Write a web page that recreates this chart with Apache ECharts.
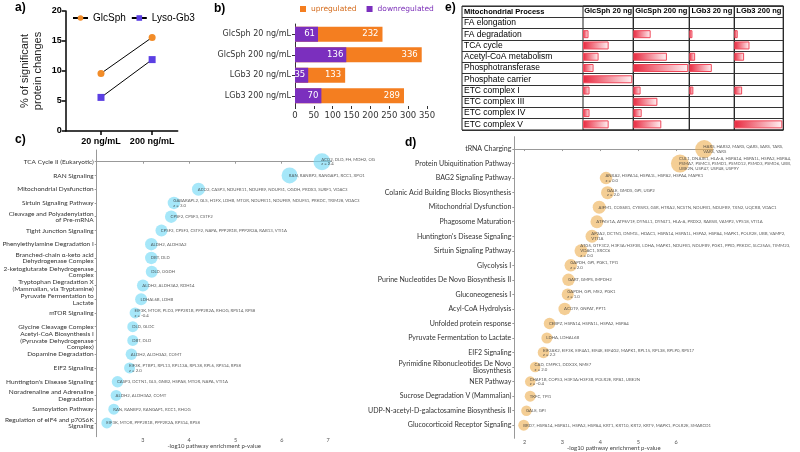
<!DOCTYPE html>
<html><head><meta charset="utf-8">
<script src="https://cdn.jsdelivr.net/npm/echarts@6/dist/echarts.min.js"></script>
<style>html,body{margin:0;padding:0;background:#fff}#c{width:800px;height:452px}</style>
</head><body><div id="c"></div>
<script>
// ---------- Panel a ----------
const aDoses = ['20 ng/mL', '200 ng/mL'];
const aGlcSph = [9.6, 15.6];
const aLysoGb3 = [5.6, 11.9];

// ---------- Panel b ----------
const bGroups = ['GlcSph 20 ng/mL', 'GlcSph 200 ng/mL', 'LGb3 20 ng/mL', 'LGb3 200 ng/mL'];
const bUp = [232, 336, 133, 289];
const bDown = [61, 136, 35, 70];

// ---------- Panel c ----------
const cPathways = [
  'TCA Cycle II (Eukaryotic)', 'RAN Signaling', 'Mitochondrial Dysfunction', 'Sirtuin Signaling Pathway',
  'Cleavage and Polyadenylation\nof Pre-mRNA', 'Tight Junction Signaling', 'Phenylethylamine Degradation I',
  'Branched-chain α-keto acid\nDehydrogenase Complex', '2-ketoglutarate Dehydrogenase\nComplex',
  'Tryptophan Degradation X\n(Mammalian, via Tryptamine)', 'Pyruvate Fermentation to\nLactate', 'mTOR Signaling',
  'Glycine Cleavage Complex', 'Acetyl-CoA Biosynthesis I\n(Pyruvate Dehydrogenase\nComplex)', 'Dopamine Degradation',
  'EIF2 Signaling', "Huntington's Disease Signaling", 'Noradrenaline and Adrenaline\nDegradation',
  'Sumoylation Pathway', 'Regulation of eIF4 and p70S6K\nSignaling'
];
const cScore = [6.87, 6.17, 4.20, 3.67, 3.61, 3.40, 3.18, 3.18, 3.19, 3.00, 2.96, 2.83, 2.78, 2.78, 2.75, 2.71, 2.45, 2.42, 2.37, 2.22];
const cSize = [17, 16, 13, 12.5, 12.5, 12, 12.5, 12.5, 12, 12, 12, 11, 11, 11, 11.5, 11, 11.5, 11, 11, 11];
const cGenes = [
  'ACO2, DLD, FH, MDH2, OG\nz = 2.4', 'RAN, RANBP2, RANGAP1, RCC1, XPO1',
  'ACO2, CASP3, NDUFB11, NDUFB9, NDUFS1, OGDH, PRDX3, SURF1, VDAC3',
  'GABARAPL2, GLS, H1FX, LDHB, MTOR, NDUFB11, NDUFB9, NDUFS1, PRKDC, TRIM28, VDAC3\nz = 3.0',
  'CPSF2, CPSF3, CSTF2', 'CPSF2, CPSF3, CSTF2, NAPA, PPP2R1B, PPP2R2A, RAB13, VTI1A',
  'ALDH2, ALDH3A2', 'DBT, DLD', 'DLD, OGDH', 'ALDH2, ALDH3A2, RDH14', 'LDHAL6B, LDHB',
  'EIF3K, MTOR, PLD3, PPP2R1B, PPP2R2A, RHOG, RPS14, RPS8\nz = -0.4', 'DLD, GLDC', 'DBT, DLD',
  'ALDH2, ALDH3A2, COMT', 'EIF3K, PTBP1, RPL13, RPL13A, RPL38, RPL6, RPS14, RPS8\nz = 2.0',
  'CASP3, DCTN1, GLS, GNB2, HSPA8, MTOR, NAPA, VTI1A', 'ALDH2, ALDH3A2, COMT',
  'RAN, RANBP2, RANGAP1, RCC1, RHOG', 'EIF3K, MTOR, PPP2R1B, PPP2R2A, RPS14, RPS8'
];
const cTicks = [3, 4, 5, 6, 7];

// ---------- Panel d ----------
const dPathways = [
  'tRNA Charging', 'Protein Ubiquitination Pathway', 'BAG2 Signaling Pathway',
  'Colanic Acid Building Blocks Biosynthesis', 'Mitochondrial Dysfunction', 'Phagosome Maturation',
  "Huntington's Disease Signaling", 'Sirtuin Signaling Pathway', 'Glycolysis I',
  'Purine Nucleotides De Novo Biosynthesis II', 'Gluconeogenesis I', 'Acyl-CoA Hydrolysis',
  'Unfolded protein response', 'Pyruvate Fermentation to Lactate', 'EIF2 Signaling',
  'Pyrimidine Ribonucleotides De Novo\nBiosynthesis', 'NER Pathway', 'Sucrose Degradation V (Mammalian)',
  'UDP-N-acetyl-D-galactosamine Biosynthesis II', 'Glucocorticoid Receptor Signaling'
];
const dScore = [6.74, 6.10, 4.15, 4.19, 3.97, 3.91, 3.78, 3.49, 3.22, 3.16, 3.14, 3.06, 2.66, 2.59, 2.50, 2.28, 2.15, 2.15, 2.05, 1.98];
const dSize = [18, 18, 12.5, 13, 13, 13, 13, 13, 12.5, 12.5, 12, 12.5, 11.5, 11, 11.5, 10.5, 10.5, 11, 10.5, 11];
const dGenes = [
  'HARS, HARS2, MARS, QARS, SARS, TARS,\nVARS, YARS',
  'CUL1, DNAJB1, HLA-A, HSPA14, HSPA1L, HSPA2, HSPA4,\nPSMA7, PSMC3, PSMD1, PSMD12, PSMD3, PSMD6, UBB,\nUBE2N, USP47, USP48, USP9Y',
  'ANXA2, HSPA14, HSPA1L, HSPA2, HSPA4, MAPK1\nz = 0.0', 'GALE, GMDS, GPI, UGP2\nz = 2.0',
  'AIFM1, COX6B1, CYB5R3, GSR, HTRA2, NCSTN, NDUFB1, NDUFB9, TXN2, UQCRB, VDAC1',
  'ATP6V1A, ATP6V1F, DYNLL1, DYNLT1, HLA-A, PRDX2, RAB5B, VAMP2, VPS18, VTI1A',
  'AP2A2, DCTN1, DNM1L, HDAC1, HSPA14, HSPA1L, HSPA2, HSPA4, MAPK1, POLR2E, UBB, VAMP2,\nVTI1A',
  'ATG5, GTF3C2, H3F3A/H3F3B, LDHA, MAPK1, NDUFB1, NDUFB9, PGK1, PPID, PRKDC, SLC25A5, TIMM23,\nVDAC1, XRCC6\nz = 0.0',
  'GAPDH, GPI, PGK1, TPI1\nz = 2.0', 'GART, GMPS, IMPDH2', 'GAPDH, GPI, ME2, PGK1\nz = 1.0',
  'ACOT9, GNPAT, PPT1', 'CEBPZ, HSPA14, HSPA1L, HSPA2, HSPA4', 'LDHA, LDHAL6B',
  'EIF2AK2, EIF3K, EIF4A1, EIF4E, EIF4G2, MAPK1, RPL15, RPL38, RPLP0, RPS17\nz = 2.2',
  'CAD, CMPK1, DDX3X, NME7\nz = 2.0', 'CHAF1B, COPS3, H3F3A/H3F3B, POLR2E, RPA1, UBE2N\nz = -0.4',
  'TKFC, TPI1', 'GALE, GPI',
  'BRD7, HSPA14, HSPA1L, HSPA2, HSPA4, KRT1, KRT10, KRT2, KRT9, MAPK1, POLR2E, SMARCD1'
];
const dTicks = [2, 3, 4, 5, 6];

// ---------- Panel e ----------
const eHeader = 'Mitochondrial Process';
const eProcesses = ['FA elongation', 'FA degradation', 'TCA cycle', 'Acetyl-CoA metabolism', 'Phosphotransferase',
  'Phosphate carrier', 'ETC complex I', 'ETC complex III', 'ETC complex IV', 'ETC complex V'];
const eColumns = ['GlcSph 20 ng', 'GlcSph 200 ng', 'LGb3 20 ng', 'LGb3 200 ng'];
const eGlcSph20  = [0, 0.11, 0.51, 0.31, 0.21, 0.98, 0.13, 0, 0.13, 0.51];
const eGlcSph200 = [0, 0.31, 0, 0.60, 0.98, 0, 0.13, 0.43, 0.15, 0.50];
const eLGb320    = [0, 0.07, 0, 0.13, 0.50, 0, 0.09, 0, 0, 0];
const eLGb3200   = [0, 0.07, 0.31, 0.20, 0, 0, 0.16, 0, 0, 0.98];
const eValues = [eGlcSph20, eGlcSph200, eLGb320, eLGb3200];

// ---------- layout ----------
const FC = 'Lato';
const eColLeft = [583, 633.3, 689.3, 734.3, 783.3];
const eTop = 6, eHeight = 124;

const chart = echarts.init(document.getElementById('c'));

const titles = [['a)', 15, 2], ['b)', 214, 3], ['c)', 15, 134], ['d)', 405, 137], ['e)', 445, 2]].map(t => ({
  text: t[0], left: t[1], top: t[2], padding: 0,
  textStyle: { fontSize: 12, fontWeight: 'bold', fontFamily: 'Liberation Sans', color: '#000' }
}));

const NB = { outerBoundsMode: 'none', containLabel: false };
const grids = [
  Object.assign({ left: 65.7, top: 11, width: 112, height: 120 }, NB),            // a
  Object.assign({ left: 295, top: 24, width: 132, height: 82 }, NB),               // b
  Object.assign({ left: 96.7, top: 150, width: 235, height: 286.7 }, NB),          // c
  Object.assign({ left: 514.3, top: 136.7, width: 199, height: 301.6 }, NB),       // d
  Object.assign({ left: 462, top: eTop, width: 321.3, height: eHeight, show: true, borderColor: '#222', borderWidth: 1 }, NB)
];
for (let k = 0; k < 4; k++) {
  grids.push(Object.assign({ left: eColLeft[k], top: eTop, width: eColLeft[k + 1] - eColLeft[k], height: eHeight,
    show: true, borderColor: '#222', borderWidth: 1 }, NB));
}

const xAxes = [
  { gridIndex: 0, type: 'value', min: 0.31, max: 2.5,
    axisLine: { lineStyle: { color: '#000', width: 1.5 } },
    axisTick: { customValues: [1, 2], length: 4, lineStyle: { color: '#000', width: 1.5 } },
    axisLabel: { customValues: [1, 2], formatter: v => aDoses[Math.round(v) - 1], fontSize: 9, fontWeight: 'bold', color: '#000', fontFamily: 'Liberation Sans', margin: 6 },
    splitLine: { show: false } },
  { gridIndex: 1, type: 'value', min: 0, max: 350, interval: 50,
    axisLine: { show: false }, axisTick: { show: true, length: 3, lineStyle: { color: '#333' } },
    axisLabel: { fontSize: 8.5, color: '#333', fontFamily: 'DejaVu Sans', margin: 5 }, splitLine: { show: false } },
  { gridIndex: 2, type: 'value', min: 2, max: 7.08,
    axisLine: { lineStyle: { color: '#999' } },
    axisTick: { customValues: cTicks, length: 2, lineStyle: { color: '#999' } },
    axisLabel: { customValues: cTicks, fontSize: 5.5, color: '#555', fontFamily: FC, margin: 1 },
    splitLine: { show: false },
    name: '-log10 pathway enrichment p-value', nameLocation: 'middle', nameGap: 6.5, nameMoveOverlap: false,
    nameTextStyle: { fontSize: 6, color: '#444', fontFamily: FC } },
  { gridIndex: 3, type: 'value', min: 1.73, max: 6.98,
    axisLine: { lineStyle: { color: '#999' } },
    axisTick: { customValues: dTicks, length: 2, lineStyle: { color: '#999' } },
    axisLabel: { customValues: dTicks, fontSize: 5.5, color: '#555', fontFamily: FC, margin: 1 },
    splitLine: { show: false },
    name: '-log10 pathway enrichment p-value', nameLocation: 'middle', nameGap: 6.5, nameMoveOverlap: false,
    nameTextStyle: { fontSize: 6, color: '#444', fontFamily: FC } },
  { gridIndex: 4, type: 'value', min: 0, max: 1, show: false }
];
for (let k = 0; k < 4; k++) {
  xAxes.push({ gridIndex: 5 + k, type: 'value', min: 0, max: 1, position: 'top',
    axisLine: { show: false }, axisTick: { show: false }, axisLabel: { show: false }, splitLine: { show: false },
    name: eColumns[k], nameLocation: 'middle', nameGap: -8.5, nameMoveOverlap: false,
    nameTextStyle: { fontSize: 7.5, fontWeight: 'bold', color: '#000', fontFamily: 'Liberation Sans' } });
}

const cIdx = cPathways.map((_, i) => i);
const dIdx = dPathways.map((_, i) => i);
const eRows = [eHeader].concat(eProcesses);

const yAxes = [
  { gridIndex: 0, type: 'value', min: 0, max: 20, interval: 5,
    axisLine: { show: true, lineStyle: { color: '#000', width: 1.5 } },
    axisTick: { show: true, length: 4, lineStyle: { color: '#000', width: 1.5 } },
    axisLabel: { fontSize: 9, fontWeight: 'bold', color: '#000', fontFamily: 'Liberation Sans', margin: 4 },
    splitLine: { show: false },
    name: '% of significant\nprotein changes', nameLocation: 'middle', nameGap: 21, nameMoveOverlap: false,
    nameTextStyle: { fontSize: 11, color: '#222', lineHeight: 13, fontFamily: 'Liberation Sans' } },
  { gridIndex: 1, type: 'category', data: bGroups, inverse: true,
    axisLine: { lineStyle: { color: '#333' } }, axisTick: { show: true, length: 3, alignWithLabel: true },
    axisLabel: { interval: 0, fontSize: 8, color: '#333', fontFamily: 'DejaVu Sans', margin: 4 } },
  { gridIndex: 2, type: 'value', min: -0.85, max: 20, inverse: true,
    axisLine: { show: true, lineStyle: { color: '#999' } },
    axisTick: { show: true, customValues: cIdx, length: 2, lineStyle: { color: '#999' } },
    axisLabel: { customValues: cIdx, formatter: v => cPathways[Math.round(v)], fontSize: 6.5, lineHeight: 6.5, color: '#333', fontFamily: FC, margin: 3 },
    splitLine: { show: false } },
  { gridIndex: 3, type: 'value', min: -0.85, max: 19.9, inverse: true,
    axisLine: { show: true, lineStyle: { color: '#999' } },
    axisTick: { show: true, customValues: dIdx, length: 2, lineStyle: { color: '#999' } },
    axisLabel: { customValues: dIdx, formatter: v => dPathways[Math.round(v)], fontSize: 7, lineHeight: 6.5, color: '#333', fontFamily: FC, margin: 3 },
    splitLine: { show: false } },
  { gridIndex: 4, type: 'category', data: eRows, inverse: true,
    axisLine: { show: false }, axisTick: { show: false },
    axisLabel: { interval: 0, inside: true, margin: 2, fontSize: 8.5, color: '#000', fontFamily: 'Liberation Sans',
      formatter: (v, i) => i === 0 ? '{h|' + v + '}' : v,
      rich: { h: { fontSize: 7.5, fontWeight: 'bold', color: '#000', fontFamily: 'Liberation Sans' } } },
    splitLine: { show: true, interval: 0, lineStyle: { color: '#333', width: 1 } } }
];
for (let k = 0; k < 4; k++) {
  yAxes.push({ gridIndex: 5 + k, type: 'category', data: eRows, inverse: true, show: false });
}

const series = [
  { name: 'GlcSph', type: 'line', xAxisIndex: 0, yAxisIndex: 0,
    data: aGlcSph.map((v, i) => [i + 1, v]), symbol: 'circle', symbolSize: 7,
    itemStyle: { color: '#F28C28' }, lineStyle: { color: '#000', width: 1 } },
  { name: 'Lyso-Gb3', type: 'line', xAxisIndex: 0, yAxisIndex: 0,
    data: aLysoGb3.map((v, i) => [i + 1, v]), symbol: 'rect', symbolSize: 7,
    itemStyle: { color: '#5B3FE3' }, lineStyle: { color: '#000', width: 1 } },
  { name: 'upregulated', type: 'bar', xAxisIndex: 1, yAxisIndex: 1, data: bUp, barWidth: 15,
    itemStyle: { color: '#F47E20' },
    label: { show: true, position: 'insideRight', color: '#fff', fontSize: 8.5, fontFamily: 'DejaVu Sans', distance: 4 } },
  { name: 'downregulated', type: 'bar', xAxisIndex: 1, yAxisIndex: 1, data: bDown, barWidth: 15, barGap: '-100%',
    itemStyle: { color: '#7B2FBE' },
    label: { show: true, position: 'insideRight', color: '#fff', fontSize: 8.5, fontFamily: 'DejaVu Sans', distance: 3 } },
  { name: 'cBubbles', type: 'scatter', xAxisIndex: 2, yAxisIndex: 2,
    data: cScore.map((v, i) => ({ value: [v, i], symbolSize: cSize[i] })),
    itemStyle: { color: 'rgba(112,216,245,0.78)' },
    label: { show: true, position: ['45%', '50%'], align: 'left', verticalAlign: 'middle',
      formatter: p => cGenes[p.dataIndex], fontSize: 4.3, lineHeight: 4.8, color: '#333', fontFamily: FC } },
  { name: 'dBubbles', type: 'scatter', xAxisIndex: 3, yAxisIndex: 3,
    data: dScore.map((v, i) => ({ value: [v, i], symbolSize: dSize[i] })),
    itemStyle: { color: 'rgba(236,174,78,0.75)' },
    label: { show: true, position: ['45%', '50%'], align: 'left', verticalAlign: 'middle',
      formatter: p => dGenes[p.dataIndex], fontSize: 4.3, lineHeight: 4.8, color: '#333', fontFamily: FC } }
];
for (let k = 0; k < 4; k++) {
  series.push({ name: eColumns[k], type: 'bar', xAxisIndex: 5 + k, yAxisIndex: 5 + k, barWidth: 8,
    data: ['-'].concat(eValues[k].map(v => v > 0 ? v : '-')),
    itemStyle: {
      color: new echarts.graphic.LinearGradient(0, 0, 1, 0, [
        { offset: 0, color: '#E8283E' }, { offset: 1, color: '#FFF2F4' }]),
      borderColor: '#F0485A', borderWidth: 1 } });
}

chart.setOption({
  animation: false,
  title: titles,
  legend: [
    { data: ['GlcSph', 'Lyso-Gb3'], left: 72, top: 13, itemWidth: 15, itemHeight: 7, itemGap: 5, padding: 0,
      textStyle: { fontSize: 10, fontFamily: 'Liberation Sans', color: '#000' } },
    { data: [{ name: 'upregulated', textStyle: { color: '#D46A1A' } }, { name: 'downregulated', textStyle: { color: '#7B2FB8' } }],
      left: 300, top: 5, icon: 'rect', itemWidth: 6, itemHeight: 6, itemGap: 10, padding: 0,
      textStyle: { fontSize: 7.5, fontFamily: 'DejaVu Sans' } }
  ],
  grid: grids, xAxis: xAxes, yAxis: yAxes, series: series
});
</script></body></html>
